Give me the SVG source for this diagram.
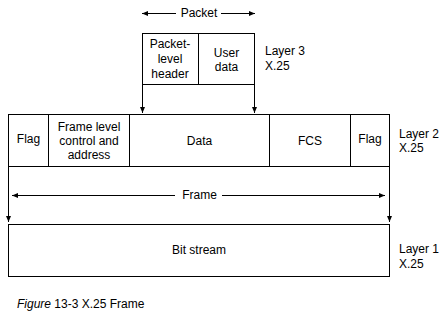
<svg xmlns="http://www.w3.org/2000/svg" width="448" height="317" viewBox="0 0 448 317">
<style>
  .box{fill:#fff;stroke:#000;stroke-width:1}
  .ln{fill:none;stroke:#000;stroke-width:1}
  text{font-family:"Liberation Sans",Arial,sans-serif;font-size:12px;fill:#000}
  .c{text-anchor:middle}
</style>
<defs>
  <marker id="ah" viewBox="0 0 6 6" refX="6" refY="3" markerWidth="6" markerHeight="6" markerUnits="userSpaceOnUse" orient="auto">
    <path d="M0,0.5 L6,3 L0,5.5 Z" fill="#000"/>
  </marker>
</defs>
<rect width="448" height="317" fill="#fff"/>

<g id="packet">
  <rect class="box" x="142.5" y="33.5" width="112" height="51"/>
  <line class="ln" x1="198.5" y1="33.5" x2="198.5" y2="84.5"/>
  <text class="c" x="170" y="48">Packet-</text>
  <text class="c" x="170" y="63">level</text>
  <text class="c" x="170" y="78">header</text>
  <text class="c" x="226.5" y="57">User</text>
  <text class="c" x="226.5" y="71">data</text>
</g>
<g id="layer3-label">
  <text x="265" y="55">Layer 3</text>
  <text x="265" y="70">X.25</text>
</g>

<g id="frame">
  <rect class="box" x="8.5" y="114.5" width="381" height="52"/>
  <line class="ln" x1="48.5" y1="114.5" x2="48.5" y2="166.5"/>
  <line class="ln" x1="129.5" y1="114.5" x2="129.5" y2="166.5"/>
  <line class="ln" x1="269.5" y1="114.5" x2="269.5" y2="166.5"/>
  <line class="ln" x1="350.5" y1="114.5" x2="350.5" y2="166.5"/>
  <text class="c" x="28.5" y="143">Flag</text>
  <text class="c" x="89" y="131">Frame level</text>
  <text class="c" x="89" y="145">control and</text>
  <text class="c" x="89" y="159">address</text>
  <text class="c" x="199.5" y="145">Data</text>
  <text class="c" x="310" y="145">FCS</text>
  <text class="c" x="370" y="143">Flag</text>
</g>
<g id="layer2-label">
  <text x="399" y="138">Layer 2</text>
  <text x="399" y="152">X.25</text>
</g>

<g id="bitstream">
  <rect class="box" x="8.5" y="224.5" width="381" height="52"/>
  <text class="c" x="199" y="254">Bit stream</text>
</g>
<g id="layer1-label">
  <text x="399" y="253">Layer 1</text>
  <text x="399" y="268">X.25</text>
</g>

<g id="connectors">
  <line class="ln" x1="176" y1="13.5" x2="142" y2="13.5" marker-end="url(#ah)"/>
  <line class="ln" x1="221" y1="13.5" x2="255" y2="13.5" marker-end="url(#ah)"/>
  <text class="c" x="199" y="17">Packet</text>
  <line class="ln" x1="142.5" y1="84.5" x2="142.5" y2="113" marker-end="url(#ah)"/>
  <line class="ln" x1="254.5" y1="84.5" x2="254.5" y2="113" marker-end="url(#ah)"/>
  <line class="ln" x1="175" y1="195.5" x2="12" y2="195.5" marker-end="url(#ah)"/>
  <line class="ln" x1="222" y1="195.5" x2="385" y2="195.5" marker-end="url(#ah)"/>
  <text class="c" x="199.5" y="199">Frame</text>
  <line class="ln" x1="8.5" y1="166.5" x2="8.5" y2="222" marker-end="url(#ah)"/>
  <line class="ln" x1="389.5" y1="166.5" x2="389.5" y2="222" marker-end="url(#ah)"/>
</g>

<g id="caption">
  <text x="17" y="308"><tspan font-style="italic">Figure</tspan> 13-3 X.25 Frame</text>
</g>
</svg>
